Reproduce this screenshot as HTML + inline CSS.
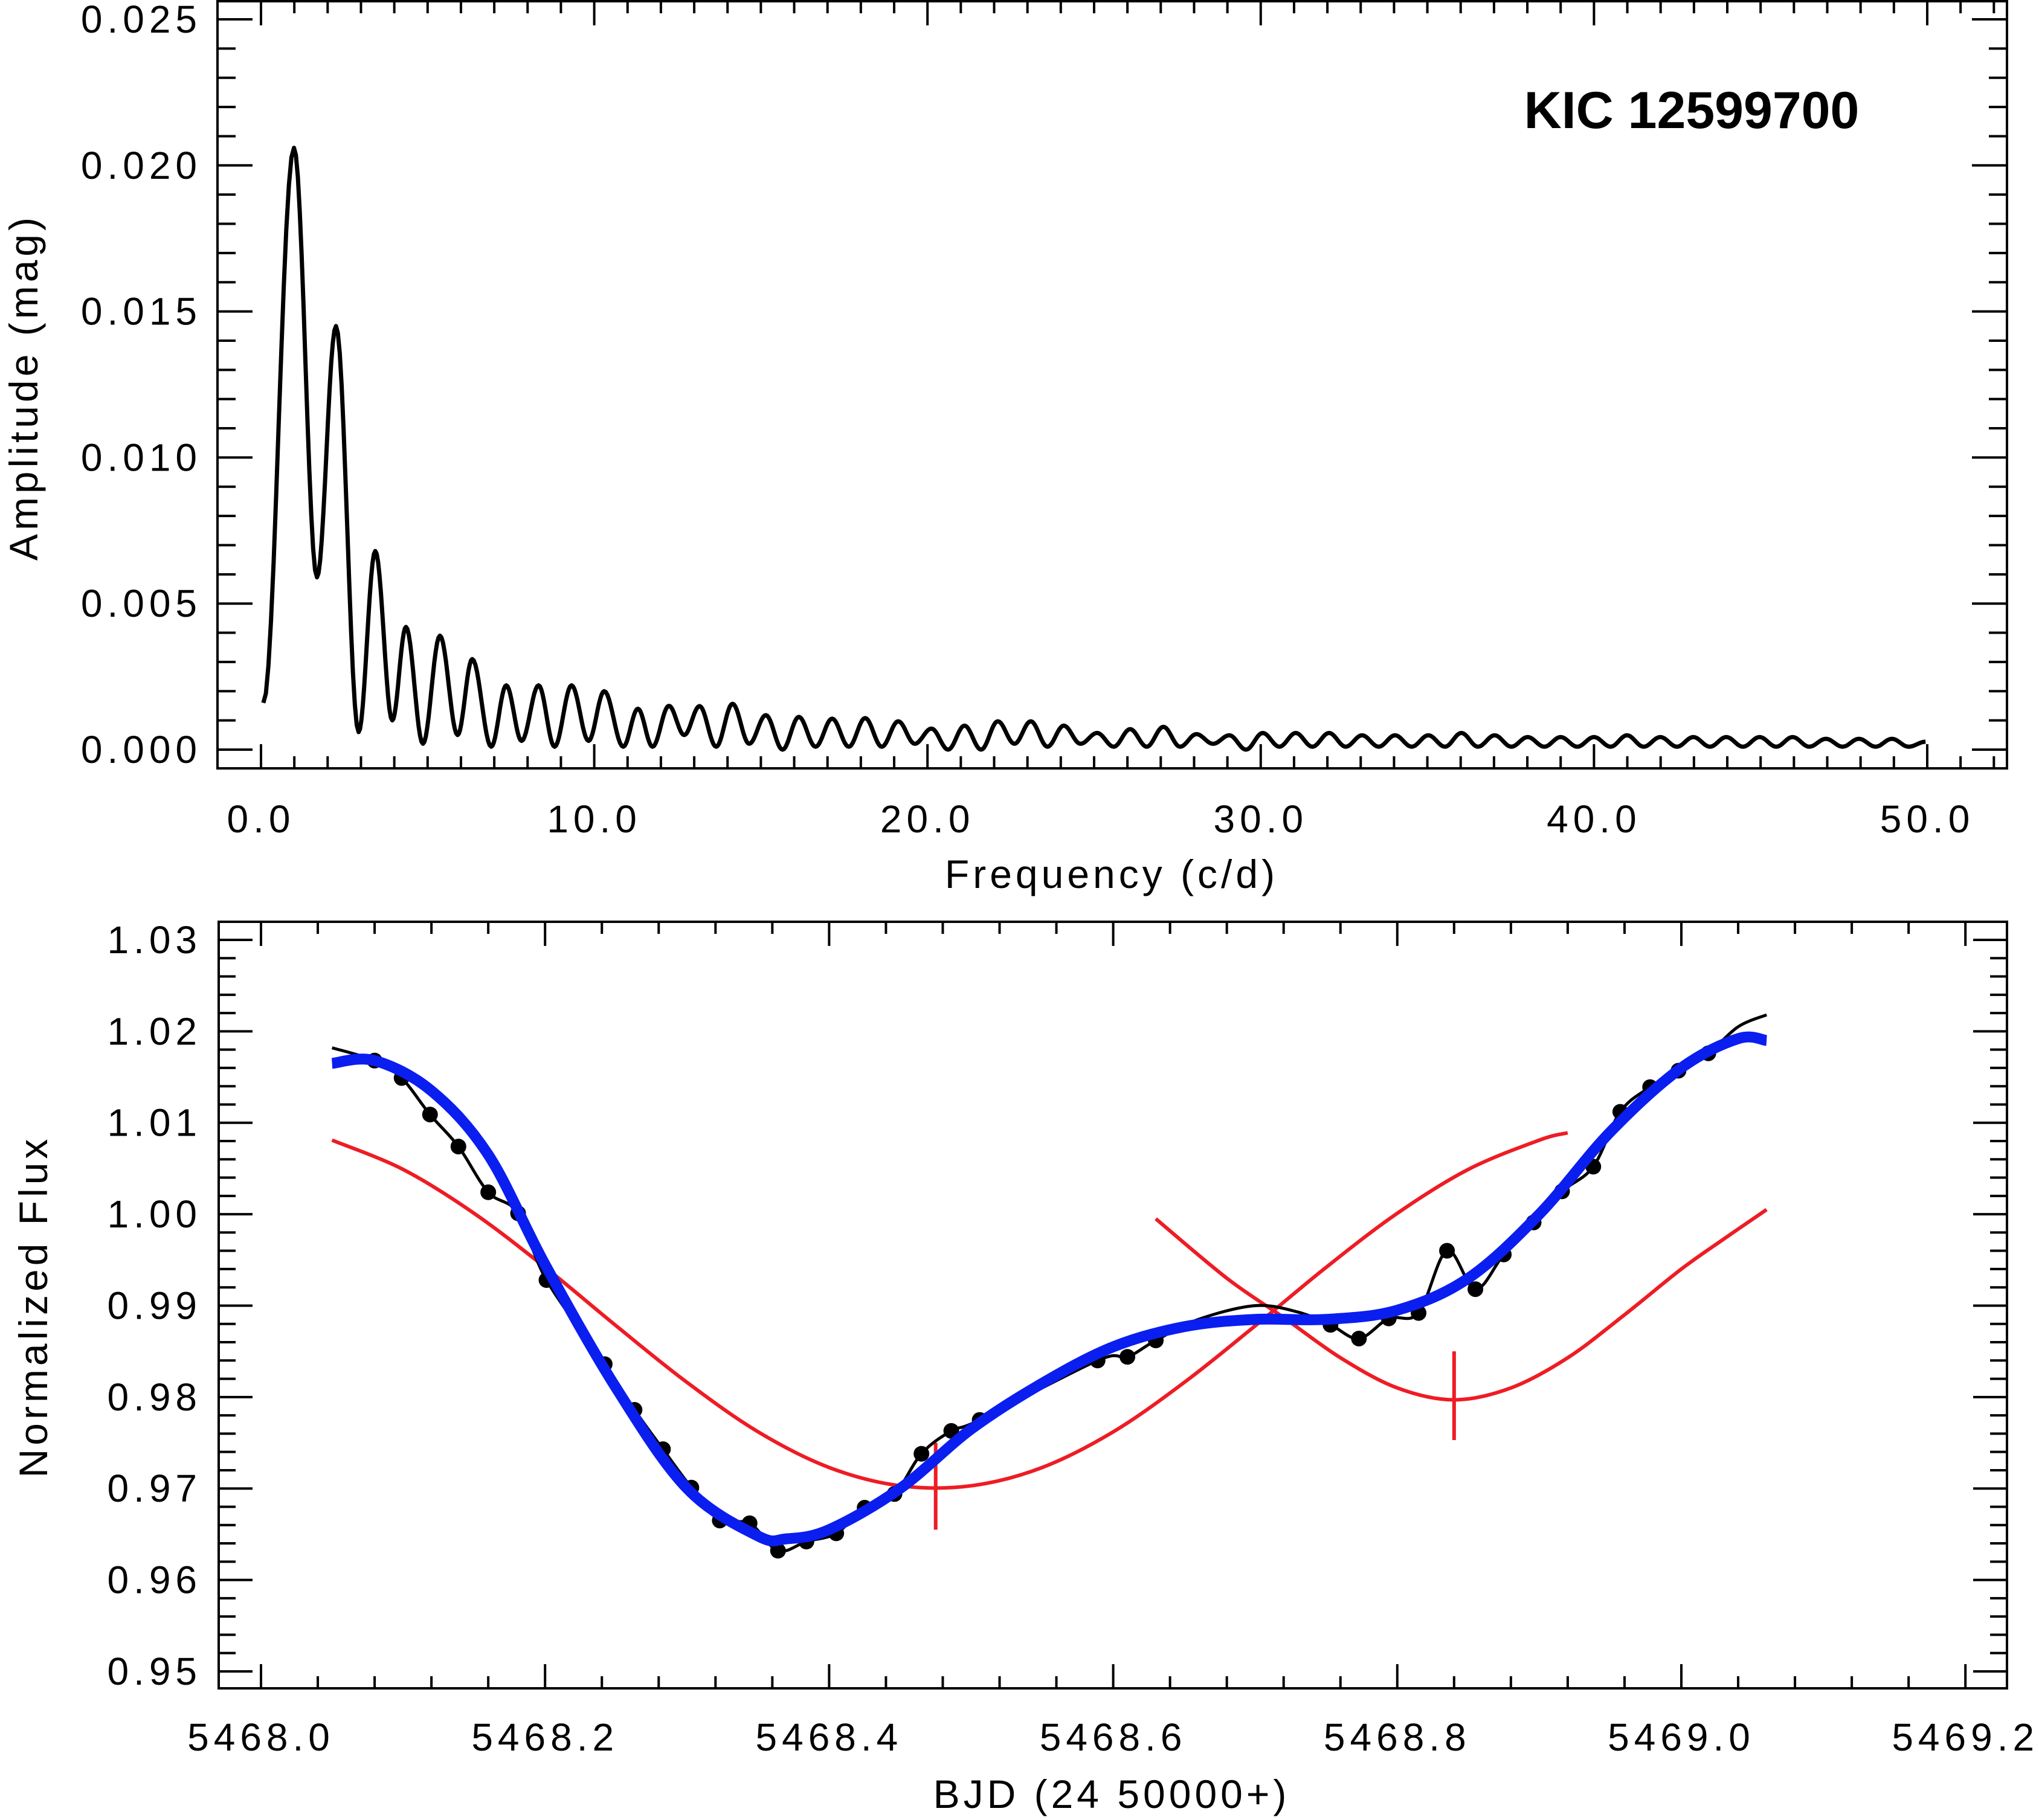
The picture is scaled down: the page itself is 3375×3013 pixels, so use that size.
<!DOCTYPE html>
<html><head><meta charset="utf-8"><style>
html,body{margin:0;padding:0;background:#fff;}
svg{display:block;}
text{font-family:"Liberation Sans",sans-serif;fill:#000;}
</style></head><body>
<svg id="fig" xmlns="http://www.w3.org/2000/svg" width="3375" height="3013" viewBox="0 0 3375 3013">
<rect width="3375" height="3013" fill="#fff"/>
<g id="topPanel"></g>
<g id="botPanel"></g>
</svg>
<script>
// ---------- Periodogram data (extrema sequence) ----------
const pgFreq = [0.07,0.99,1.68,2.25,2.93,3.43,3.94,4.35,4.86,5.37,5.9,6.34,6.91,7.36,7.82,8.33,8.81,9.32,9.83,10.3,10.87,11.31,11.75,12.24,12.7,
13.16,13.66,14.15,14.65,15.15,15.65,16.14,16.64,17.14,17.64,18.13,18.63,19.12,19.62,20.12,20.62,21.11,21.61,22.11,22.61,23.1,23.6,24.09,24.59,25.09,25.59,26.08,26.58,27.08,27.58,28.07,28.57,29.06,29.56,30.06,30.56,31.05,31.55,32.05,32.55,33.04,33.54,34.03,34.53,35.03,35.53,36.02,36.52,37.02,37.52,38.01,38.51,39.0,39.5,40.0,40.5,40.99,41.49,41.99,42.49,42.98,43.48,43.97,44.47,44.97,45.47,45.96,46.46,46.96,47.46,47.95,48.45,48.94,49.44,49.95];
const pgAmp = [0.0016,0.0206,0.0059,0.0145,0.0006,0.0068,0.0010,0.0042,0.0002,0.0039,0.0005,0.0031,0.0001,0.0022,0.0003,0.0022,0.0001,0.0022,0.0003,0.0020,0.0001,0.0014,0.0001,0.0015,0.0005,
0.00149,0.0001,0.00157,0.0002,0.00118,0.0000,0.00112,0.0001,0.00106,0.0001,0.00108,0.0001,0.00097,0.0002,0.00072,0.0000,0.00082,0.0000,0.00097,0.0002,0.00097,0.0001,0.00082,0.0002,0.00057,0.0001,0.00070,0.0001,0.00078,0.0001,0.00053,0.0002,0.00049,0.0000,0.00057,0.0001,0.00057,0.0001,0.00057,0.0001,0.00049,0.0001,0.00049,0.0001,0.00049,0.0001,0.00057,0.0001,0.00049,0.0001,0.00043,0.0001,0.00043,0.0001,0.00043,0.0001,0.00049,0.0001,0.00043,0.0001,0.00043,0.0001,0.00043,0.0001,0.00043,0.0001,0.00043,0.0001,0.00037,0.0001,0.00037,0.0001,0.00037,0.0001,0.00027];
const pgYTicks = ["0.000","0.005","0.010","0.015","0.020","0.025"];
const pgXTicks = ["0.0","10.0","20.0","30.0","40.0","50.0"];

// ---------- Light curve data ----------
const obsT = [5468.080,5468.099,5468.119,5468.139,5468.160,5468.181,5468.201,5468.242,5468.263,5468.283,5468.303,5468.323,5468.344,5468.364,5468.384,5468.405,5468.425,5468.446,5468.465,5468.486,5468.506,5468.589,5468.610,5468.630,5468.753,5468.773,5468.794,5468.815,5468.835,5468.855,5468.875,5468.896,5468.916,5468.938,5468.957,5468.978,5468.998,5469.019];
const obsF = [1.0168,1.0149,1.0109,1.0074,1.0024,1.0001,0.9928,0.9836,0.9786,0.9743,0.9701,0.9665,0.9662,0.9632,0.9642,0.9651,0.9679,0.9694,0.9738,0.9763,0.9775,0.9840,0.9844,0.9862,0.9879,0.9864,0.9886,0.9892,0.9960,0.9918,0.9956,0.9991,1.0025,1.0052,1.0112,1.0139,1.0157,1.0176];
const lineExtraT = [5468.050,5468.660,5468.700,5468.730,5469.040,5469.060];
const lineExtraF = [1.0182,0.9885,0.9900,0.9893,1.0205,1.0218];
const fitT = [5468.05,5468.08,5468.12,5468.16,5468.20,5468.25,5468.30,5468.35,5468.37,5468.40,5468.45,5468.50,5468.55,5468.60,5468.65,5468.70,5468.75,5468.80,5468.85,5468.90,5468.95,5469.00,5469.04,5469.06];
const fitF = [1.0165,1.0168,1.0135,1.0065,0.9945,0.9810,0.9700,0.9648,0.9645,0.9655,0.9700,0.9765,0.9815,0.9855,0.9877,0.9885,0.9885,0.9895,0.9930,1.0000,1.0090,1.0160,1.0192,1.0190];
const redAT = [5468.05,5468.10,5468.15,5468.20,5468.25,5468.30,5468.35,5468.40,5468.45,5468.50,5468.55,5468.60,5468.65,5468.70,5468.75,5468.80,5468.85,5468.90,5468.92];
const redAF = [1.0081,1.0049,1.0001,0.9942,0.9878,0.9816,0.9762,0.9723,0.9703,0.9703,0.9723,0.9762,0.9816,0.9878,0.9942,1.0001,1.0049,1.0081,1.0089];
const redBT = [5468.63,5468.68,5468.72,5468.76,5468.80,5468.84,5468.88,5468.92,5468.96,5469.00,5469.03,5469.06];
const redBF = [0.9995,0.9930,0.9887,0.9843,0.9810,0.9797,0.9810,0.9843,0.9890,0.9940,0.9973,1.0005];
const minT = [5468.475,5468.84];
const minLo = [0.9655,0.9753];
const minHi = [0.9750,0.9850];
const lcYTicks = ["0.95","0.96","0.97","0.98","0.99","1.00","1.01","1.02","1.03"];
const lcXTicks = ["5468.0","5468.2","5468.4","5468.6","5468.8","5469.0","5469.2"];

const NS = "http://www.w3.org/2000/svg";
function mk(parent, tag, attrs){const e=document.createElementNS(NS,tag);for(const k in attrs)e.setAttribute(k,attrs[k]);parent.appendChild(e);return e;}

// ---------- Top panel ----------
const topG = document.getElementById('topPanel');
const T = {l:360,r:3322,t:2,b:1272};
const px = f => 432 + f*55.16;
const py = a => 1241 - a*48360;
let fr = mk(topG,'rect',{x:T.l,y:T.t,width:T.r-T.l,height:T.b-T.t,fill:'none',stroke:'#000','stroke-width':4});


let tk = '';
for(let i=0;i<=25;i++){const v=i*0.001,y=py(v),L=(i%5===0)?58:30;tk+=`M${T.l},${y}h${L}M${T.r},${y}h${-L}`;}
for(let i=0;i<=52;i++){const x=px(i);if(x>T.r)break;const L=(i%10===0)?40:20;tk+=`M${x},${T.b}v${-L}M${x},${T.t}v${L}`;}
let tp = mk(topG,'path',{d:tk,stroke:'#000','stroke-width':4,fill:'none'});


pgYTicks.forEach((s,i)=>{const t=mk(topG,'text',{x:334,y:py(parseFloat(s))+22,'text-anchor':'end','font-size':64,'letter-spacing':8});t.textContent=s;

});
pgXTicks.forEach(s=>{const t=mk(topG,'text',{x:px(parseFloat(s)),y:1378,'text-anchor':'middle','font-size':64,'letter-spacing':8});t.textContent=s;

});
let yl = mk(topG,'text',{x:0,y:0,transform:'translate(62,641) rotate(-90)','text-anchor':'middle','font-size':66,'letter-spacing':6});
yl.textContent='Amplitude (mag)';


let xl = mk(topG,'text',{x:1840,y:1470,'text-anchor':'middle','font-size':66,'letter-spacing':6});
xl.textContent='Frequency (c/d)';


let kic = mk(topG,'text',{x:2800,y:212,'text-anchor':'middle','font-size':86,'font-weight':'bold'});
kic.textContent='KIC 12599700';


let d='';
for(let i=0;i<pgFreq.length-1;i++){
  const f0=pgFreq[i],f1=pgFreq[i+1],a0=pgAmp[i],a1=pgAmp[i+1];
  for(let s=(i===0?0:1);s<=12;s++){const u=s/12;const f=f0+(f1-f0)*u;const a=a0+(a1-a0)*(1-Math.cos(Math.PI*u))/2;
    d+=(d?'L':'M')+px(f).toFixed(1)+','+py(a).toFixed(1);}
}
let pg = mk(topG,'path',{d:d,stroke:'#000','stroke-width':7,fill:'none','stroke-linejoin':'round'});



// ---------- Bottom panel ----------
const botG = document.getElementById('botPanel');
const B = {l:362,r:3322,t:1526,b:2795};
const bx = t => 432 + (t-5468)*2351;
function byf(f){return 1556 + (1.03-f)*15137;}
let fr2 = mk(botG,'rect',{x:B.l,y:B.t,width:B.r-B.l,height:B.b-B.t,fill:'none',stroke:'#000','stroke-width':4});


let tk2='';
for(let i=0;i<=41;i++){const v=0.95+i*0.002,y=byf(v);if(y<B.t)break;const L=(i%5===0)?56:28;tk2+=`M${B.l},${y}h${L}M${B.r},${y}h${-L}`;}
for(let i=0;i<=31;i++){const x=bx(5468+i*0.04);if(x>B.r)break;const L=(i%5===0)?40:20;tk2+=`M${x},${B.b}v${-L}M${x},${B.t}v${L}`;}
let tp2 = mk(botG,'path',{d:tk2,stroke:'#000','stroke-width':4,fill:'none'});


lcYTicks.forEach(s=>{const t=mk(botG,'text',{x:334,y:byf(parseFloat(s))+22,'text-anchor':'end','font-size':64,'letter-spacing':8});t.textContent=s;

});
lcXTicks.forEach(s=>{const t=mk(botG,'text',{x:bx(parseFloat(s)),y:2898,'text-anchor':'middle','font-size':64,'letter-spacing':8});t.textContent=s;

});
let yl2 = mk(botG,'text',{x:0,y:0,transform:'translate(78,2163) rotate(-90)','text-anchor':'middle','font-size':66,'letter-spacing':6});
yl2.textContent='Normalized Flux';


let xl2 = mk(botG,'text',{x:1840,y:2993,'text-anchor':'middle','font-size':66,'letter-spacing':6});
xl2.textContent='BJD (24 50000+)';



function smooth(ts,fs){
  const P=ts.map((t,i)=>[bx(t),byf(fs[i])]);
  let s='M'+P[0][0].toFixed(1)+','+P[0][1].toFixed(1);
  for(let i=0;i<P.length-1;i++){
    const p0=P[Math.max(0,i-1)],p1=P[i],p2=P[i+1],p3=P[Math.min(P.length-1,i+2)];
    const c1=[p1[0]+(p2[0]-p0[0])/6,p1[1]+(p2[1]-p0[1])/6];
    const c2=[p2[0]-(p3[0]-p1[0])/6,p2[1]-(p3[1]-p1[1])/6];
    s+=`C${c1[0].toFixed(1)},${c1[1].toFixed(1)} ${c2[0].toFixed(1)},${c2[1].toFixed(1)} ${p2[0].toFixed(1)},${p2[1].toFixed(1)}`;
  }
  return s;
}
const lt=[],lf=[];
obsT.forEach((t,i)=>{lt.push(t);lf.push(obsF[i]);});
lineExtraT.forEach((t,i)=>{lt.push(t);lf.push(lineExtraF[i]);});
const ord=lt.map((t,i)=>i).sort((a,b)=>lt[a]-lt[b]);
let ra = mk(botG,'path',{d:smooth(redAT,redAF),stroke:'#ee1c24','stroke-width':6,fill:'none'});


let rb = mk(botG,'path',{d:smooth(redBT,redBF),stroke:'#ee1c24','stroke-width':6,fill:'none'});


minT.forEach((t,i)=>{const l=mk(botG,'line',{x1:bx(t),x2:bx(t),y1:byf(minLo[i]),y2:byf(minHi[i]),stroke:'#ee1c24','stroke-width':6});

});
let bl = mk(botG,'path',{d:smooth(ord.map(i=>lt[i]),ord.map(i=>lf[i])),stroke:'#000','stroke-width':5,fill:'none'});


obsT.forEach((t,i)=>{const c=mk(botG,'circle',{cx:bx(t),cy:byf(obsF[i]),r:13,fill:'#000'});

});
let fit = mk(botG,'path',{d:smooth(fitT,fitF),stroke:'#0a1ef0','stroke-width':18,fill:'none','stroke-linecap':'butt'});


</script>
</body></html>
